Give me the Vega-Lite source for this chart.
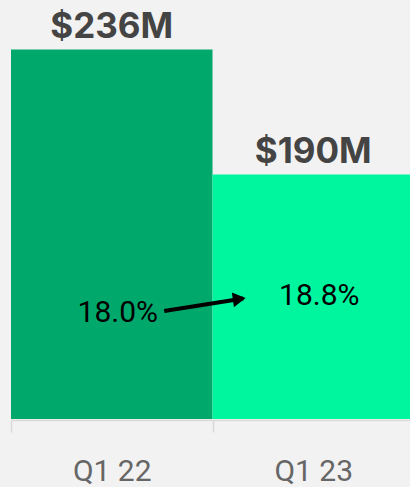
{
  "$schema": "https://vega.github.io/schema/vega-lite/v6.json",
  "width": 403,
  "height": 419,
  "autosize": {"type": "none"},
  "padding": {"left": 11, "top": 0, "right": 0, "bottom": 68},
  "background": "#f2f2f2",
  "config": {"view": {"stroke": null}},
  "datasets": {
    "rev": [
      {"period": "Q1 22", "revenue": 236, "label": "$236M", "margin": 18.0, "marginLabel": "18.0%"},
      {"period": "Q1 23", "revenue": 190, "label": "$190M", "margin": 18.8, "marginLabel": "18.8%"}
    ]
  },
  "resolve": {"scale": {"y": "independent"}},
  "layer": [
    {
      "data": {"name": "rev"},
      "encoding": {
        "x": {
          "field": "period", "type": "nominal", "sort": null,
          "scale": {"paddingInner": 0, "paddingOuter": 0},
          "axis": {
            "title": null, "labelAngle": 0, "labelFont": "Roboto", "labelFontSize": 30,
            "labelColor": "#666666", "labelBaseline": "alphabetic", "labelPadding": 48,
            "domainColor": "#d9d9d9", "domainWidth": 1.5, "tickColor": "#d9d9d9",
            "tickWidth": 1.5, "tickSize": 12, "tickBand": "extent", "offset": 1
          }
        }
      },
      "layer": [
        {
          "mark": {"type": "bar"},
          "encoding": {
            "y": {"field": "revenue", "type": "quantitative", "scale": {"domain": [100, 254.2], "zero": false, "nice": false}, "axis": null},
            "y2": {"datum": 100},
            "color": {"field": "period", "type": "nominal", "scale": {"domain": ["Q1 22", "Q1 23"], "range": ["#00a86b", "#00f59f"]}, "legend": null}
          }
        },
        {
          "mark": {"type": "text", "font": "Inter", "fontWeight": "bold", "fontSize": 35, "color": "#444444", "baseline": "alphabetic", "align": "center", "dy": -11.5},
          "encoding": {
            "y": {"field": "revenue", "type": "quantitative"},
            "text": {"field": "label"}
          }
        }
      ]
    },
    {
      "layer": [
        {
          "data": {"name": "rev"},
          "mark": {"type": "text", "font": "Roboto", "fontSize": 30, "color": "#000000", "baseline": "alphabetic", "align": "center", "xOffset": 6},
          "encoding": {
            "x": {"field": "period", "type": "nominal", "sort": null},
            "y": {"field": "margin", "type": "quantitative", "scale": {"domain": [13.435, 33.153], "zero": false, "nice": false}, "axis": null},
            "text": {"field": "marginLabel"}
          }
        },
        {
          "data": {"values": [{}]},
          "mark": {"type": "rule", "color": "#000000", "strokeWidth": 4, "xOffset": 52.5, "x2Offset": -70, "yOffset": -11, "y2Offset": -6.5},
          "encoding": {
            "x": {"datum": "Q1 22", "type": "nominal"},
            "x2": {"datum": "Q1 23"},
            "y": {"datum": 18.0, "type": "quantitative"},
            "y2": {"datum": 18.8}
          }
        },
        {
          "data": {"values": [{}]},
          "mark": {"type": "point", "shape": "triangle-right", "filled": true, "color": "#000000", "opacity": 1, "size": 220, "angle": -8, "xOffset": -74, "yOffset": -6},
          "encoding": {
            "x": {"datum": "Q1 23", "type": "nominal"},
            "y": {"datum": 18.8, "type": "quantitative"}
          }
        }
      ]
    }
  ]
}
